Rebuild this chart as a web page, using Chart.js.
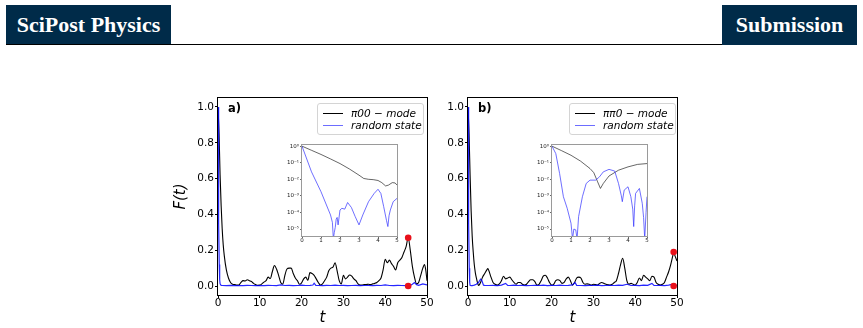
<!DOCTYPE html>
<html>
<head>
<meta charset="utf-8">
<script src="https://cdn.jsdelivr.net/npm/chart.js@4.4.1/dist/chart.umd.min.js"></script>
<style>
  body { margin: 0; width: 863px; height: 328px; position: relative; background: #fff; overflow: hidden; font-family: "DejaVu Sans", sans-serif; }
  .box { position: absolute; top: 5px; height: 40px; background: #002b49; color: #fff; font: bold 22px "Liberation Serif", serif; line-height: 40px; text-align: center; }
  .rule { position: absolute; left: 6px; width: 851px; top: 44px; height: 1px; background: #000; }
  canvas { position: absolute; }
  .legend { position: absolute; top: 103px; width: 105px; height: 30px; border: 1px solid #d4d4d4; border-radius: 3px; background: rgba(255,255,255,0.85); font: italic 10.5px "DejaVu Sans"; color: #000; }
  .legend .ln { position: absolute; left: 5px; width: 20px; height: 0; }
  .legend .tx { position: absolute; left: 33px; line-height: 12px; white-space: nowrap; }
  .tag { position: absolute; top: 101px; font: bold 11.5px "DejaVu Sans"; color: #000; }
</style>
</head>
<body>
<div class="box" style="left:6px;width:165px">SciPost Physics</div>
<div class="rule"></div>
<div class="box" style="left:722px;width:135px">Submission</div>

<canvas id="mainA" width="268" height="238" style="left:170px;top:90px"></canvas>
<canvas id="mainB" width="268" height="238" style="left:420px;top:90px"></canvas>
<canvas id="insA" width="116" height="106" style="left:285px;top:140px"></canvas>
<canvas id="insB" width="116" height="106" style="left:535px;top:140px"></canvas>

<div class="tag" style="left:228px">a)</div>
<div class="tag" style="left:478px">b)</div>

<div class="legend" style="left:317px">
  <div class="ln" style="top:9px;border-top:1.2px solid #000"></div>
  <div class="tx" style="top:3px">π00 − mode</div>
  <div class="ln" style="top:21px;border-top:1.5px solid rgba(60,60,255,0.75)"></div>
  <div class="tx" style="top:15px">random state</div>
</div>
<div class="legend" style="left:569px">
  <div class="ln" style="top:9px;border-top:1.2px solid #000"></div>
  <div class="tx" style="top:3px">ππ0 − mode</div>
  <div class="ln" style="top:21px;border-top:1.5px solid rgba(60,60,255,0.75)"></div>
  <div class="tx" style="top:15px">random state</div>
</div>

<script>
// fidelity F(t), [t, F] pairs
const modeA = [
  [0,1],[0.25,0.85],[0.5,0.62],[0.75,0.45],[1,0.32],[1.25,0.23],[1.5,0.17],[2,0.09],[2.5,0.045],[3,0.02],
  [3.5,0.01],[4,0.008],[4.5,0.005],[5,0.006],[5.5,0.02],[6,0.03],[6.5,0.028],[7,0.035],[7.5,0.03],[8,0.025],
  [8.5,0.015],[9,0.008],[9.5,0.004],[10,0.005],[10.5,0.012],[11,0.022],[11.5,0.03],[12,0.05],[12.5,0.042],[13,0.08],
  [13.5,0.115],[14,0.095],[14.5,0.06],[15,0.02],[15.5,0.01],[16,0.06],[16.5,0.095],[17,0.1],[17.5,0.1],[18,0.07],
  [18.5,0.045],[19,0.03],[19.5,0.01],[20,0.018],[20.5,0.04],[21,0.05],[21.5,0.032],[22,0.075],[22.5,0.07],[23,0.06],
  [23.5,0.04],[24,0.02],[24.5,0.005],[25,0.012],[25.5,0.03],[26,0.05],[26.5,0.085],[27,0.1],[27.5,0.105],[28,0.13],
  [28.5,0.085],[29,0.03],[29.5,0.012],[30,0.06],[30.5,0.04],[31,0.05],[31.5,0.062],[32,0.055],[32.5,0.04],[33,0.03],
  [33.5,0.012],[34,0.005],[34.5,0.006],[35,0.008],[35.5,0.009],[36,0.01],[36.5,0.008],[37,0.012],[37.5,0.015],[38,0.02],
  [38.5,0.03],[39,0.045],[39.5,0.09],[40,0.15],[40.5,0.13],[41,0.145],[41.5,0.125],[42,0.11],[42.5,0.09],[43,0.13],
  [43.5,0.145],[44,0.16],[44.5,0.19],[45,0.22],[45.5,0.27],[46,0.2],[46.5,0.11],[47,0.05],[47.5,0.012],[48,0.02],
  [48.5,0.06],[49,0.1],[49.4,0.12],[49.7,0.09],[50,0.03]
];
const randA = [
  [0,1],[0.1,0.75],[0.2,0.35],[0.3,0.12],[0.4,0.035],[0.5,0.012],[0.75,0.004],[1,0.003],
  [2,0.002],[3,0.004],[4,0.002],[5,0.003],[6,0.002],[7,0.004],[8,0.003],[9,0.002],[10,0.003],[11,0.002],
  [12,0.004],[13,0.003],[14,0.002],[15,0.006],[16,0.003],[17,0.004],[18,0.002],[19,0.003],[20,0.005],[21,0.003],
  [22,0.004],[22.7,0.006],[23,0.016],[23.4,0.004],[24,0.003],[25,0.002],[26,0.004],[27,0.003],[28,0.005],[29,0.003],
  [30,0.004],[31,0.002],[32,0.003],[33,0.004],[34,0.002],[35,0.003],[36,0.003],[37,0.002],[38,0.004],[39,0.003],
  [40,0.006],[41,0.003],[42,0.002],[43,0.004],[44,0.003],[45,0.002],[46,0.004],[46.5,0.01],[47,0.02],[47.5,0.008],
  [48,0.004],[49,0.012],[50,0.006]
];
const modeB = [
  [0,1],[0.25,0.85],[0.5,0.62],[0.75,0.42],[1,0.28],[1.25,0.19],[1.5,0.12],[1.75,0.075],[2,0.045],[2.25,0.02],
  [2.5,0.004],[2.75,0.008],[3,0.02],[3.5,0.05],[4,0.07],[4.5,0.09],[4.75,0.097],[5,0.085],[5.5,0.05],[6,0.02],
  [6.5,0.01],[7,0.005],[7.5,0.012],[8,0.03],[8.5,0.055],[9,0.04],[9.5,0.045],[10,0.05],[10.5,0.035],[11,0.02],
  [11.5,0.01],[12,0.02],[12.5,0.02],[13,0.01],[13.5,0.005],[14,0.01],[14.5,0.025],[15,0.035],[15.5,0.035],[16,0.025],
  [16.5,0.005],[17,0.01],[17.5,0.03],[18,0.055],[18.5,0.06],[19,0.045],[19.5,0.02],[20,0.005],[20.5,0.01],[21,0.03],
  [21.5,0.035],[22,0.03],[22.5,0.015],[23,0.02],[23.5,0.04],[24,0.05],[24.5,0.03],[25,0.005],[25.5,0.02],[26,0.045],
  [26.5,0.05],[27,0.045],[27.5,0.02],[28,0.01],[28.5,0.012],[29,0.01],[29.5,0.005],[30,0.01],[30.5,0.008],[31,0.005],
  [31.5,0.015],[32,0.02],[32.5,0.015],[33,0.01],[33.5,0.007],[34,0.005],[34.5,0.01],[35,0.02],[35.5,0.03],[36,0.07],
  [36.5,0.12],[37,0.155],[37.5,0.1],[38,0.03],[38.5,0.01],[39,0.015],[39.5,0.01],[40,0.005],[40.5,0.02],[41,0.045],
  [41.5,0.03],[42,0.06],[42.5,0.05],[43,0.04],[43.5,0.03],[44,0.055],[44.5,0.05],[45,0.02],[45.5,0.01],[46,0.005],
  [46.5,0.01],[47,0.02],[47.5,0.05],[48,0.08],[48.5,0.12],[49,0.17],[49.2,0.19],[49.5,0.17],[50,0.14]
];
const randB = [
  [0,1],[0.1,0.7],[0.2,0.35],[0.3,0.1],[0.4,0.022],[0.5,0.004],[0.75,0.002],[1,0.002],
  [1.5,0.005],[2,0.01],[2.5,0.02],[3,0.038],[3.3,0.032],[3.7,0.005],[4,0.004],[5,0.003],[6,0.004],[7,0.002],
  [8,0.005],[9,0.015],[9.5,0.004],[10,0.003],[11,0.005],[12,0.003],[13,0.004],[14,0.002],[15,0.003],[16,0.004],
  [17,0.003],[18,0.005],[19,0.002],[20,0.004],[21,0.003],[22,0.005],[23,0.003],[24,0.004],[25,0.006],[25.6,0.02],
  [26,0.004],[27,0.003],[28,0.002],[29,0.004],[30,0.003],[31,0.005],[32,0.002],[33,0.003],[34,0.004],[35,0.003],
  [36,0.005],[37,0.004],[38,0.01],[39,0.003],[40,0.004],[41,0.002],[42,0.005],[43,0.004],[44,0.015],[44.5,0.004],
  [45,0.003],[46,0.004],[47,0.002],[48,0.005],[48.5,0.008],[49,0.01],[49.5,0.006],[50,0.004]
];
// red markers [t, F]
const marksA = [[45.5,0.27],[45.5,0.0]];
const marksB = [[49.2,0.19],[49.2,0.0]];

// insets: [t, log10 F]
const insModeA = [
  [0,0],[0.5,-0.25],[1,-0.5],[1.5,-0.77],[2,-1.05],[2.5,-1.38],[3,-1.75],[3.25,-1.95],[3.5,-2.0],
  [3.75,-2.02],[4,-2.07],[4.2,-2.2],[4.4,-2.4],[4.55,-2.35],[4.75,-2.2],[4.9,-2.22],[5,-2.35]
];
const insRandA = [
  [0,0],[0.5,-1.55],[1,-2.75],[1.5,-4.15],[1.6,-4.6],[1.65,-5.6],[1.7,-5.2],[1.75,-4.9],[1.8,-4.4],[1.85,-4.3],
  [1.9,-4.75],[2,-3.85],[2.1,-3.75],[2.25,-3.8],[2.4,-3.4],[2.6,-3.7],[2.8,-4.25],[3,-4.75],[3.2,-4.15],[3.5,-3.35],
  [3.8,-2.85],[4,-2.6],[4.15,-2.85],[4.3,-3.65],[4.45,-4.5],[4.52,-4.85],[4.58,-4.2],[4.65,-3.85],[4.8,-3.35],[5,-3.15]
];
const insModeB = [
  [0,0],[0.5,-0.27],[1,-0.55],[1.5,-0.9],[2,-1.35],[2.2,-1.6],[2.4,-2.15],[2.55,-2.55],[2.7,-2.25],
  [3,-1.8],[3.5,-1.45],[4,-1.25],[4.5,-1.1],[5,-1.05]
];
const insRandB = [
  [0,0],[0.2,-0.45],[0.4,-1.65],[0.6,-3.05],[0.8,-3.75],[1,-4.65],[1.08,-5.6],[1.15,-5.0],[1.25,-5.05],[1.32,-5.6],
  [1.4,-4.25],[1.6,-3.05],[1.8,-2.25],[2,-2.05],[2.3,-2.05],[2.5,-1.85],[2.7,-1.55],[3,-1.4],[3.3,-1.5],[3.5,-2.25],
  [3.65,-3.0],[3.7,-3.35],[3.8,-2.65],[4,-2.45],[4.15,-3.05],[4.25,-3.8],[4.3,-4.85],[4.35,-3.6],[4.4,-2.85],[4.6,-2.55],
  [4.75,-3.45],[4.82,-4.3],[4.88,-5.6],[4.95,-4.0],[5,-3.05]
];

const tTicks = [0, 10, 20, 30, 40, 50];
const fTicks = [0.0, 0.2, 0.4, 0.6, 0.8, 1.0];
const insTTicks = [0, 1, 2, 3, 4, 5];
const insDecades = [-5, -4, -3, -2, -1, 0];

const FONT = 'DejaVu Sans';
const BLUE = 'rgba(0,0,255,0.85)';
const BLUE_LIGHT = 'rgba(50,50,255,0.7)';

const frame = {
  id: 'frame',
  beforeDatasetsDraw(chart, args, opts) {
    const a = chart.chartArea, ctx = chart.ctx;
    if (opts.fill) {
      ctx.save();
      ctx.fillStyle = opts.fill;
      ctx.fillRect(a.left, a.top, a.right - a.left, a.bottom - a.top);
      ctx.restore();
    }
  },
  afterDraw(chart, args, opts) {
    const a = chart.chartArea, ctx = chart.ctx;
    ctx.save();
    ctx.strokeStyle = opts.color || '#000';
    ctx.lineWidth = 1;
    ctx.strokeRect(Math.round(a.left) - 0.5, Math.round(a.top) - 0.5,
      Math.round(a.right - a.left) + 1, Math.round(a.bottom - a.top) + 1);
    ctx.restore();
  }
};

const pts = arr => arr.map(p => ({ x: p[0], y: p[1] }));
const logPts = arr => arr.map(p => ({ x: p[0], y: Math.pow(10, p[1]) }));
const SUP = { '0': '⁰', '1': '¹', '2': '²', '3': '³', '4': '⁴', '5': '⁵', '-': '⁻' };

function mainChart(id, mode, rand, marks, yTitle) {
  new Chart(document.getElementById(id), {
    type: 'line',
    data: {
      datasets: [
        { type: 'scatter', data: pts(marks), pointRadius: 3.3, pointBackgroundColor: '#e8101a', pointBorderColor: '#e8101a', borderWidth: 0 },
        { data: pts(rand), borderColor: BLUE, borderWidth: 1.2, pointRadius: 0, tension: 0 },
        { data: pts(mode), borderColor: '#000', borderWidth: 1.1, pointRadius: 0, cubicInterpolationMode: 'monotone' }
      ]
    },
    options: {
      responsive: false,
      animation: false,
      events: [],
      layout: { padding: { top: 8, right: 11, left: 0, bottom: 0 } },
      plugins: { legend: { display: false }, tooltip: { enabled: false }, frame: { color: '#000' } },
      scales: {
        x: {
          type: 'linear', min: 0, max: 50,
          afterBuildTicks: s => { s.ticks = tTicks.map(v => ({ value: v })); },
          afterFit: s => { s.height = 33; },
          grid: { drawOnChartArea: false, tickLength: 3, color: '#000' },
          border: { display: false },
          ticks: { font: { family: FONT, size: 10.5, lineHeight: 1 }, color: '#000', padding: 0, maxRotation: 0 },
          title: { display: true, text: 't', color: '#000', font: { family: FONT, size: 15, style: 'italic', lineHeight: 1.2 }, padding: { top: 0, bottom: 1 } }
        },
        y: {
          type: 'linear', min: -0.05, max: 1.05,
          afterBuildTicks: s => { s.ticks = fTicks.map(v => ({ value: v })); },
          afterFit: s => { s.width = 48; },
          grid: { drawOnChartArea: false, tickLength: 3, color: '#000' },
          border: { display: false },
          ticks: { font: { family: FONT, size: 10.5 }, color: '#000', padding: 1, callback: v => v.toFixed(1) },
          title: { display: !!yTitle, text: yTitle || '', color: '#000', font: { family: FONT, size: 15, style: 'italic', lineHeight: 1.2 }, padding: { top: 2, bottom: 0 } }
        }
      }
    },
    plugins: [frame]
  });
}

function insetChart(id, mode, rand) {
  new Chart(document.getElementById(id), {
    type: 'line',
    data: {
      datasets: [
        { data: logPts(rand), borderColor: BLUE_LIGHT, borderWidth: 1, pointRadius: 0, tension: 0 },
        { data: logPts(mode), borderColor: 'rgba(0,0,0,0.75)', borderWidth: 0.8, pointRadius: 0, tension: 0 }
      ]
    },
    options: {
      responsive: false,
      animation: false,
      events: [],
      layout: { padding: { top: 5, right: 4, left: 0, bottom: 0 } },
      plugins: { legend: { display: false }, tooltip: { enabled: false }, frame: { color: '#9a9a9a', fill: '#fff' } },
      scales: {
        x: {
          type: 'linear', min: 0, max: 5,
          afterBuildTicks: s => { s.ticks = insTTicks.map(v => ({ value: v })); },
          afterFit: s => { s.height = 10; },
          grid: { drawOnChartArea: false, tickLength: 2, color: '#666' },
          border: { display: false },
          ticks: { font: { family: FONT, size: 5.5, lineHeight: 1 }, color: '#222', padding: 0, maxRotation: 0 }
        },
        y: {
          type: 'logarithmic', min: Math.pow(10, -5.42), max: Math.pow(10, 0.07),
          afterBuildTicks: s => { s.ticks = insDecades.map(e => ({ value: Math.pow(10, e) })); },
          afterFit: s => { s.width = 17; },
          grid: { drawOnChartArea: false, tickLength: 2, color: '#666' },
          border: { display: false },
          ticks: {
            font: { family: FONT, size: 5.5 }, color: '#222', padding: 1,
            callback: v => '10' + String(Math.round(Math.log10(v))).split('').map(c => SUP[c]).join('')
          }
        }
      }
    },
    plugins: [frame]
  });
}

mainChart('mainA', modeA, randA, marksA, 'F(t)');
mainChart('mainB', modeB, randB, marksB, null);
insetChart('insA', insModeA, insRandA);
insetChart('insB', insModeB, insRandB);
</script>
</body>
</html>
